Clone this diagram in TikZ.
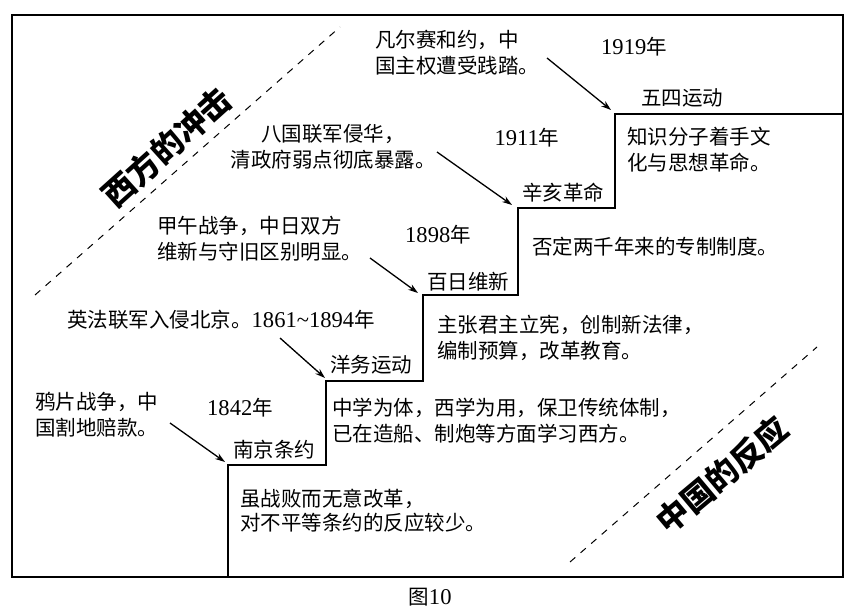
\documentclass[tikz,border=0pt]{standalone}
\usepackage{fontspec}
\setmainfont{Noto Sans CJK SC}
\newfontfamily\ser{Liberation Serif}[Scale=1.1]
\usetikzlibrary{arrows.meta}
\tikzset{
  txt/.style={inner sep=0pt, font=\fontsize{20.5}{26}\selectfont, align=left},
  ctxt/.style={inner sep=0pt, font=\fontsize{20.5}{26}\selectfont, align=center},
  big/.style={inner sep=0pt, font=\fontsize{32}{36}\selectfont\bfseries},
  stair/.style={line width=1.4pt, line join=miter},
  frame/.style={line width=1.4pt},
  guide/.style={line width=1pt, dash pattern=on 7pt off 7pt},
  pointer/.style={line width=1.3pt, -{Stealth[length=10pt,width=6.5pt]}}
}
\begin{document}
\begin{tikzpicture}[x=1pt,y=-1pt]
\useasboundingbox (0,0) rectangle (859,609);
% frame
\draw[frame] (12,15) rectangle (843,577);
% staircase coordinates
\coordinate (s0) at (228,577);
\coordinate (s1) at (228,465);
\coordinate (s2) at (326,465);
\coordinate (s3) at (326,381);
\coordinate (s4) at (423,381);
\coordinate (s5) at (423,295);
\coordinate (s6) at (518,295);
\coordinate (s7) at (518,208);
\coordinate (s8) at (615,208);
\coordinate (s9) at (615,114);
\coordinate (s10) at (843,114);
\draw[stair] (s0) -- (s1) -- (s2) -- (s3) -- (s4) -- (s5) -- (s6) -- (s7) -- (s8) -- (s9) -- (s10);
% dashed guides
\coordinate (d1a) at (35,295);
\coordinate (d1b) at (340,27);
\coordinate (d2a) at (570,562);
\coordinate (d2b) at (817,347);
\draw[guide] (d1a) -- (d1b);
\draw[guide] (d2a) -- (d2b);
% big rotated labels
\node[big, rotate=42] (west) at (167,147) {西方的冲击};
\node[big, rotate=40] (china) at (722,475) {中国的反应};
% 1919
\node[txt, anchor=west] (versailles) at (375,53) {凡尔赛和约，中\\国主权遭受践踏。};
\node[ctxt] (y1919) at (634,47) {{\ser 1919}年};
\node[ctxt] (may4) at (682,98) {五四运动};
\node[txt, anchor=west] (may4d) at (627,150) {知识分子着手文\\化与思想革命。};
% 1911
\node[ctxt] (boxer) at (333,147) {八国联军侵华，\\清政府弱点彻底暴露。};
\node[ctxt] (y1911) at (527,138) {{\ser 1911}年};
\node[ctxt] (xinhai) at (563,193) {辛亥革命};
\node[ctxt] (xinhaid) at (655,247) {否定两千年来的专制制度。};
% 1898
\node[txt, anchor=west] (jiawu) at (157,239) {甲午战争，中日双方\\维新与守旧区别明显。};
\node[ctxt] (y1898) at (438,235) {{\ser 1898}年};
\node[ctxt] (bairi) at (468,282) {百日维新};
\node[txt, anchor=west] (bairid) at (437,338) {主张君主立宪，创制新法律，\\编制预算，改革教育。};
% 1861-1894
\node[txt, anchor=west] (anglo) at (67,320) {英法联军入侵北京。{\ser 1861\textasciitilde1894}年};
\node[ctxt] (yangwu) at (371,365) {洋务运动};
\node[txt, anchor=west] (yangwud) at (332,421) {中学为体，西学为用，保卫传统体制，\\已在造船、制炮等方面学习西方。};
% 1842
\node[txt, anchor=west] (opium) at (35,415) {鸦片战争，中\\国割地赔款。};
\node[ctxt] (y1842) at (240,408) {{\ser 1842}年};
\node[ctxt] (nanjing) at (274,450) {南京条约};
\node[txt, anchor=west, font=\fontsize{20.5}{24}\selectfont] (nanjingd) at (240,511) {虽战败而无意改革，\\对不平等条约的反应较少。};
% caption
\node[ctxt] (cap) at (430,597) {图{\ser 10}};
% arrows
\coordinate (a1) at (170,423);
\coordinate (a2) at (280,338);
\coordinate (a3) at (370,258);
\coordinate (a4) at (437,152);
\coordinate (a5) at (547,58);
\draw[pointer] (a1) -- ([shift={(-3,-3)}]s1);
\draw[pointer] (a2) -- ([shift={(-1,-3)}]s3);
\draw[pointer] (a3) -- ([shift={(-5,-2)}]s5);
\draw[pointer] (a4) -- ([shift={(-6,-3)}]s7);
\draw[pointer] (a5) -- ([shift={(-4,-4)}]s9);
\end{tikzpicture}
\end{document}
